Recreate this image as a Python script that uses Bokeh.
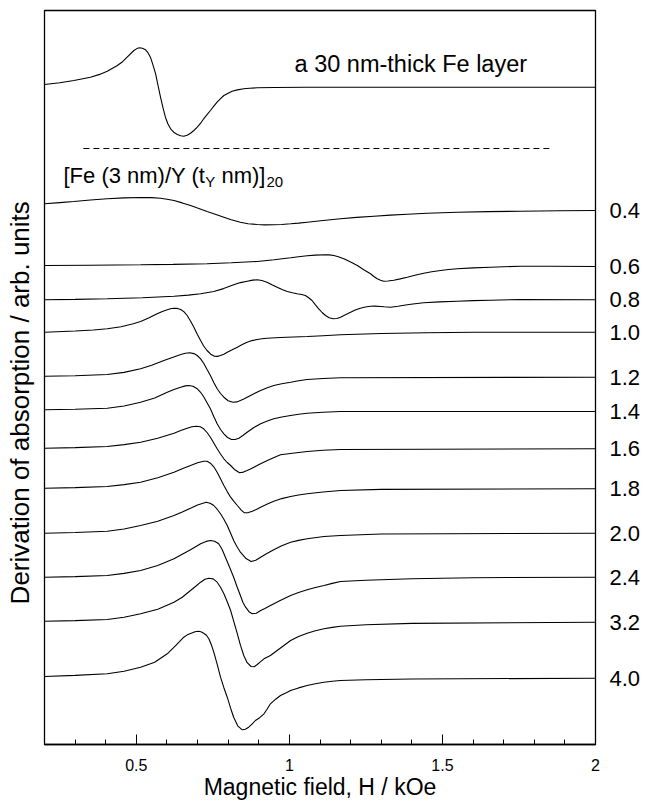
import numpy as np
from bokeh.plotting import figure
from bokeh.models import Range1d, LinearAxis, FixedTicker, Label
from bokeh.embed import file_html
from bokeh.resources import INLINE

# ---- data: (magnetic field H in kOe, signal in arb. units above its baseline) ----
FE30 = [(0.2, 0.27), (0.25, 0.45), (0.296, 0.67), (0.35, 1.0), (0.38, 1.28), (0.405, 1.6), (0.438, 2.17),
        (0.455, 2.55), (0.47, 3.0), (0.492, 3.67), (0.502, 3.86), (0.51, 3.94), (0.52, 3.9), (0.53, 3.74),
        (0.538, 3.45), (0.546, 3.0), (0.554, 2.25), (0.563, 1.34), (0.571, 0.15), (0.579, -1.0),
        (0.587, -2.05), (0.595, -3.0), (0.603, -3.65), (0.612, -4.16), (0.622, -4.5), (0.634, -4.73),
        (0.645, -4.85), (0.655, -4.9), (0.666, -4.8), (0.677, -4.6), (0.688, -4.33), (0.699, -4.0),
        (0.71, -3.6), (0.72, -3.16), (0.731, -2.75), (0.742, -2.33), (0.753, -1.9), (0.764, -1.5),
        (0.775, -1.15), (0.786, -0.83), (0.80, -0.6), (0.813, -0.4), (0.83, -0.27), (0.851, -0.16),
        (0.87, -0.1), (0.895, -0.06), (0.95, -0.03), (1.058, 0.0), (2.0, 0.0)]

T04 = [(0.2, 0.67), (0.25, 0.79), (0.296, 0.9), (0.35, 1.05), (0.405, 1.17), (0.46, 1.26), (0.514, 1.3),
       (0.55, 1.29), (0.579, 1.23), (0.60, 1.13), (0.623, 1.0), (0.65, 0.76), (0.677, 0.5), (0.70, 0.24),
       (0.731, -0.1), (0.76, -0.4), (0.786, -0.67), (0.81, -0.92), (0.84, -1.17), (0.865, -1.32),
       (0.895, -1.4), (0.92, -1.44), (0.949, -1.43), (0.975, -1.4), (1.004, -1.33), (1.03, -1.26),
       (1.058, -1.17), (1.11, -1.0), (1.167, -0.83), (1.22, -0.69), (1.276, -0.57), (1.33, -0.46),
       (1.385, -0.37), (1.45, -0.28), (1.549, -0.17), (1.65, -0.11), (1.755, -0.07), (1.88, -0.03),
       (2.0, 0.0)]

T06 = [(0.2, 0.1), (0.35, 0.13), (0.514, 0.17), (0.62, 0.21), (0.731, 0.27), (0.81, 0.37), (0.895, 0.5),
       (0.95, 0.67), (1.004, 0.87), (1.03, 0.98), (1.058, 1.07), (1.085, 1.14), (1.118, 1.17), (1.13, 1.16),
       (1.145, 1.1), (1.16, 0.97), (1.178, 0.77), (1.20, 0.45), (1.222, 0.1), (1.243, -0.32), (1.265, -0.73),
       (1.276, -1.0), (1.287, -1.23), (1.298, -1.38), (1.308, -1.47), (1.322, -1.45), (1.341, -1.37),
       (1.362, -1.24), (1.385, -1.07), (1.41, -0.88), (1.439, -0.67), (1.465, -0.52), (1.494, -0.4),
       (1.52, -0.3), (1.549, -0.23), (1.60, -0.14), (1.657, -0.07), (1.755, 0.03), (1.85, 0.02), (2.0, 0.0)]

T08 = [(0.2, 0.0), (0.3, 0.04), (0.405, 0.1), (0.52, 0.2), (0.623, 0.36), (0.67, 0.47), (0.71, 0.6),
       (0.753, 0.83), (0.785, 1.12), (0.818, 1.5), (0.84, 1.72), (0.862, 1.86), (0.88, 1.97), (0.895, 2.0),
       (0.91, 1.93), (0.927, 1.76), (0.943, 1.5), (0.96, 1.26), (0.976, 1.02), (0.993, 0.83), (1.01, 0.7),
       (1.025, 0.6), (1.04, 0.53), (1.052, 0.43), (1.063, 0.2), (1.074, -0.07), (1.085, -0.5), (1.096, -0.9),
       (1.107, -1.27), (1.118, -1.57), (1.13, -1.8), (1.143, -1.9), (1.155, -1.87), (1.167, -1.74),
       (1.183, -1.5), (1.20, -1.24), (1.215, -1.02), (1.232, -0.84), (1.248, -0.72), (1.265, -0.64),
       (1.28, -0.63), (1.298, -0.67), (1.31, -0.7), (1.33, -0.74), (1.355, -0.65), (1.385, -0.5),
       (1.41, -0.4), (1.439, -0.3), (1.49, -0.21), (1.549, -0.14), (1.60, -0.08), (1.657, -0.04),
       (1.755, 0.03), (2.0, 0.0)]

T10 = [(0.2, 0.0), (0.3, 0.12), (0.36, 0.22), (0.405, 0.34), (0.45, 0.55), (0.49, 0.84), (0.514, 1.07),
       (0.54, 1.42), (0.568, 1.84), (0.585, 2.08), (0.601, 2.24), (0.612, 2.35), (0.623, 2.4), (0.634, 2.38),
       (0.645, 2.27), (0.656, 2.03), (0.666, 1.67), (0.677, 1.12), (0.688, 0.5), (0.699, -0.2),
       (0.71, -0.83), (0.72, -1.38), (0.731, -1.83), (0.743, -2.2), (0.755, -2.4), (0.765, -2.42),
       (0.775, -2.33), (0.786, -2.2), (0.797, -2.0), (0.813, -1.76), (0.83, -1.5), (0.846, -1.24),
       (0.862, -1.0), (0.878, -0.84), (0.895, -0.73), (0.91, -0.66), (0.927, -0.6), (0.97, -0.53),
       (1.058, -0.43), (1.11, -0.35), (1.167, -0.26), (1.3, -0.13), (1.45, -0.05), (1.601, 0.0), (2.0, 0.0)]

T12 = [(0.2, 0.1), (0.3, 0.15), (0.405, 0.27), (0.46, 0.48), (0.514, 0.84), (0.55, 1.2), (0.59, 1.67),
       (0.62, 2.0), (0.645, 2.27), (0.66, 2.4), (0.675, 2.44), (0.688, 2.36), (0.699, 2.17), (0.71, 1.83),
       (0.721, 1.34), (0.731, 0.78), (0.742, 0.17), (0.753, -0.52), (0.764, -1.16), (0.775, -1.63),
       (0.786, -2.0), (0.80, -2.35), (0.816, -2.5), (0.828, -2.47), (0.84, -2.33), (0.851, -2.18),
       (0.862, -2.0), (0.884, -1.65), (0.906, -1.33), (0.928, -1.05), (0.949, -0.83), (0.975, -0.65),
       (1.004, -0.5), (1.03, -0.35), (1.058, -0.23), (1.11, -0.13), (1.167, -0.06), (2.0, 0.0)]

T14 = [(0.2, 0.17), (0.3, 0.22), (0.405, 0.33), (0.46, 0.55), (0.514, 0.93), (0.56, 1.35), (0.601, 1.93),
       (0.625, 2.22), (0.645, 2.43), (0.66, 2.56), (0.671, 2.6), (0.685, 2.52), (0.699, 2.27), (0.71, 1.92),
       (0.721, 1.43), (0.731, 0.88), (0.742, 0.27), (0.753, -0.5), (0.764, -1.23), (0.775, -1.8),
       (0.786, -2.23), (0.798, -2.6), (0.811, -2.8), (0.823, -2.8), (0.835, -2.67), (0.848, -2.4),
       (0.862, -2.07), (0.884, -1.6), (0.906, -1.23), (0.928, -0.95), (0.949, -0.73), (0.975, -0.55),
       (1.004, -0.4), (1.03, -0.27), (1.058, -0.17), (1.11, -0.07), (1.167, 0.0), (2.0, 0.0)]

T16 = [(0.2, 0.06), (0.3, 0.12), (0.405, 0.23), (0.46, 0.42), (0.514, 0.66), (0.57, 1.05), (0.623, 1.56),
       (0.645, 1.83), (0.666, 2.06), (0.682, 2.2), (0.697, 2.26), (0.709, 2.2), (0.72, 2.0), (0.731, 1.63),
       (0.742, 1.16), (0.753, 0.58), (0.764, 0.0), (0.775, -0.52), (0.786, -1.0), (0.797, -1.37),
       (0.808, -1.67), (0.822, -2.1), (0.837, -2.4), (0.85, -2.33), (0.862, -2.17), (0.873, -2.02),
       (0.884, -1.84), (0.906, -1.5), (0.928, -1.17), (0.95, -0.86), (0.971, -0.6), (1.01, -0.45),
       (1.058, -0.27), (1.11, -0.15), (1.167, -0.07), (2.0, 0.0)]

T18 = [(0.2, 0.06), (0.3, 0.12), (0.405, 0.23), (0.46, 0.42), (0.514, 0.66), (0.57, 1.1), (0.623, 1.66),
       (0.65, 2.0), (0.677, 2.33), (0.70, 2.6), (0.72, 2.76), (0.731, 2.75), (0.742, 2.56), (0.753, 2.2),
       (0.764, 1.66), (0.775, 1.0), (0.786, 0.33), (0.797, -0.28), (0.808, -0.84), (0.82, -1.3),
       (0.83, -1.67), (0.842, -2.1), (0.853, -2.4), (0.866, -2.38), (0.879, -2.24), (0.892, -2.06),
       (0.906, -1.84), (0.928, -1.52), (0.949, -1.24), (0.975, -0.98), (1.004, -0.77), (1.03, -0.62),
       (1.058, -0.5), (1.11, -0.32), (1.167, -0.17), (1.3, -0.06), (2.0, 0.0)]

T20 = [(0.2, 0.0), (0.3, 0.07), (0.405, 0.2), (0.46, 0.42), (0.514, 0.77), (0.57, 1.2), (0.623, 1.77),
       (0.65, 2.13), (0.677, 2.5), (0.70, 2.83), (0.728, 3.1), (0.741, 3.0), (0.753, 2.77), (0.764, 2.4),
       (0.775, 1.94), (0.786, 1.4), (0.797, 0.77), (0.808, 0.0), (0.818, -0.73), (0.829, -1.35),
       (0.84, -1.9), (0.857, -2.5), (0.875, -2.83), (0.89, -2.7), (0.906, -2.4), (0.925, -2.06),
       (0.949, -1.66), (0.975, -1.25), (1.004, -0.9), (1.03, -0.72), (1.058, -0.56), (1.113, -0.33),
       (1.167, -0.23), (1.3, -0.08), (2.0, 0.0)]

T24 = [(0.2, 0.0), (0.3, 0.06), (0.405, 0.17), (0.46, 0.38), (0.514, 0.67), (0.57, 1.17), (0.623, 1.84),
       (0.65, 2.3), (0.677, 2.74), (0.695, 3.07), (0.71, 3.34), (0.728, 3.58), (0.742, 3.67), (0.756, 3.6),
       (0.769, 3.34), (0.78, 2.8), (0.791, 2.0), (0.805, 0.97), (0.818, 0.0), (0.829, -0.95), (0.84, -1.83),
       (0.848, -2.5), (0.857, -3.0), (0.868, -3.45), (0.879, -3.66), (0.892, -3.6), (0.906, -3.33),
       (0.92, -3.12), (0.938, -2.83), (0.97, -2.33), (1.004, -1.83), (1.03, -1.53), (1.058, -1.26),
       (1.085, -1.03), (1.113, -0.83), (1.14, -0.62), (1.167, -0.43), (1.25, -0.3), (1.40, -0.15),
       (1.6, -0.05), (2.0, 0.0)]

T32 = [(0.2, 0.1), (0.3, 0.16), (0.405, 0.27), (0.46, 0.5), (0.514, 0.84), (0.57, 1.3), (0.623, 2.0),
       (0.65, 2.5), (0.677, 3.17), (0.695, 3.62), (0.71, 4.0), (0.724, 4.3), (0.737, 4.4), (0.751, 4.33),
       (0.764, 4.0), (0.775, 3.5), (0.786, 2.84), (0.797, 2.05), (0.808, 1.17), (0.819, 0.0), (0.83, -1.16),
       (0.84, -2.3), (0.851, -3.33), (0.862, -4.05), (0.875, -4.43), (0.885, -4.45), (0.895, -4.23),
       (0.906, -3.95), (0.917, -3.66), (0.927, -3.5), (0.938, -3.33), (0.97, -2.6), (1.004, -1.83),
       (1.03, -1.42), (1.058, -1.1), (1.085, -0.85), (1.113, -0.66), (1.14, -0.52), (1.167, -0.4),
       (1.25, -0.25), (1.40, -0.12), (2.0, 0.0)]

T40 = [(0.2, 0.17), (0.3, 0.28), (0.405, 0.44), (0.46, 0.7), (0.514, 1.1), (0.56, 1.6), (0.601, 2.44),
       (0.63, 3.3), (0.655, 4.1), (0.669, 4.38), (0.683, 4.54), (0.692, 4.65), (0.702, 4.7), (0.711, 4.64),
       (0.72, 4.5), (0.729, 4.3), (0.737, 3.94), (0.745, 3.35), (0.753, 2.6), (0.764, 1.4), (0.775, 0.1),
       (0.786, -0.95), (0.797, -1.9), (0.808, -3.0), (0.818, -3.9), (0.832, -4.8), (0.846, -5.16),
       (0.856, -5.1), (0.867, -4.9), (0.878, -4.6), (0.889, -4.23), (0.903, -3.95), (0.917, -3.56),
       (0.927, -3.1), (0.938, -2.56), (0.955, -2.1), (0.971, -1.73), (0.99, -1.45), (1.004, -1.23),
       (1.03, -0.97), (1.058, -0.73), (1.085, -0.55), (1.113, -0.4), (1.14, -0.3), (1.167, -0.23),
       (1.25, -0.15), (1.40, -0.08), (2.0, 0.0)]

# stacking baselines (arb. units) and Y-layer thickness labels
tY_labels = ["0.4", "0.6", "0.8", "1.0", "1.2", "1.4", "1.6", "1.8", "2.0", "2.4", "3.2", "4.0"]
tY_offsets = [53.4, 47.8, 44.47, 41.23, 36.73, 33.3, 29.57, 25.57, 21.13, 16.73, 12.23, 6.63]
fe30_offset = 65.73

x_ticks = [0.5, 1.0, 1.5, 2.0]
x_tick_labels = ["0.5", "1", "1.5", "2"]
x_minor = [0.3, 0.4, 0.6, 0.7, 0.8, 0.9, 1.1, 1.2, 1.3, 1.4, 1.6, 1.7, 1.8, 1.9]

series = [T04, T06, T08, T10, T12, T14, T16, T18, T20, T24, T32, T40]

FONT = "Liberation Sans"

p = figure(width=649, height=803, output_backend="svg", toolbar_location=None,
           x_range=Range1d(0.2, 2.0), y_range=Range1d(0, 73.4),
           min_border_left=44, min_border_right=54, min_border_top=10, min_border_bottom=59)
p.background_fill_color = "white"
p.border_fill_color = "white"
p.outline_line_color = "black"
p.outline_line_width = 1.3
p.xgrid.visible = False
p.ygrid.visible = False

# bottom axis
xa = p.xaxis[0]
xa.ticker = FixedTicker(ticks=x_ticks, minor_ticks=x_minor)
xa.major_label_overrides = {t: s for t, s in zip(x_ticks, x_tick_labels)}
xa.major_tick_in = 10
xa.major_tick_out = 0
xa.minor_tick_in = 5
xa.minor_tick_out = 0
xa.major_tick_line_color = "black"
xa.minor_tick_line_color = "black"
xa.axis_line_color = "black"
xa.axis_line_width = 1.3
xa.major_label_text_font = FONT
xa.major_label_text_font_size = "16px"
xa.major_label_text_color = "black"
xa.major_label_standoff = 14
xa.axis_label = "Magnetic field, H / kOe"
xa.axis_label_text_font = FONT
xa.axis_label_text_font_size = "23px"
xa.axis_label_text_font_style = "normal"
xa.axis_label_text_color = "black"
xa.axis_label_standoff = 0

# left axis: title only (trailing no-break spaces move the visible text a little lower)
ya = p.yaxis[0]
ya.ticker = FixedTicker(ticks=[])
ya.axis_line_color = None
ya.major_tick_line_color = None
ya.minor_tick_line_color = None
ya.axis_label = "Derivation of absorption / arb. units" + "\u00a0" * 7
ya.axis_label_text_font = FONT
ya.axis_label_text_font_size = "26px"
ya.axis_label_text_font_style = "normal"
ya.axis_label_text_color = "black"
ya.axis_label_standoff = 10

# right axis: t_Y values at the baselines
ra = LinearAxis(ticker=FixedTicker(ticks=tY_offsets),
                major_label_overrides={o: s for o, s in zip(tY_offsets, tY_labels)})
ra.axis_line_color = None
ra.major_tick_line_color = None
ra.minor_tick_line_color = None
ra.major_label_text_font = FONT
ra.major_label_text_font_size = "22px"
ra.major_label_text_color = "black"
ra.major_label_standoff = 8
p.add_layout(ra, "right")

# curves
def draw(pairs, off):
    pts = sorted(pairs)
    h = [a for a, _ in pts]
    s = np.array([b for _, b in pts]) + off
    p.line(h, s, line_color="black", line_width=1.1)

draw(FE30, fe30_offset)
for pairs, off in zip(series, tY_offsets):
    draw(pairs, off)

# dashed separator
p.line([0.327, 1.862], [59.6, 59.6], line_color="black", line_width=1.0, line_dash="6 4")

def lab(x, y, text, size=22, xo=0, yo=0, align="left"):
    p.add_layout(Label(x=x, y=y, text=text, x_offset=xo, y_offset=yo,
                       text_font=FONT, text_font_size=f"{size}px", text_color="black",
                       text_align=align, text_baseline="middle"))

lab(1.017, 68.1, "a 30 nm-thick Fe layer", size=23.5)

# [Fe (3 nm)/Y (tY nm)]20
fm, fsub = 22, 15
x0, y0 = 0.262, 56.9
w1 = 6.446 * fm
lab(x0, y0, "[Fe (3 nm)/Y (t", size=fm)
lab(x0, y0, "Y", size=fsub, xo=w1, yo=-6)
w2 = w1 + 0.667 * fsub + 0.278 * fm
lab(x0, y0, "nm)]", size=fm, xo=w2)
w3 = w2 + 2.0 * fm + 1
lab(x0, y0, "20", size=fsub, xo=w3, yo=-6)

# header of the right-hand labels
lab(2.0, 59.9, "t", xo=26)
lab(2.0, 59.9, "Y", size=fsub, xo=26 + 0.278 * 22, yo=-5)
lab(2.0, 57.4, "(nm)", xo=6)

open("out.html", "w").write(file_html(p, INLINE))
